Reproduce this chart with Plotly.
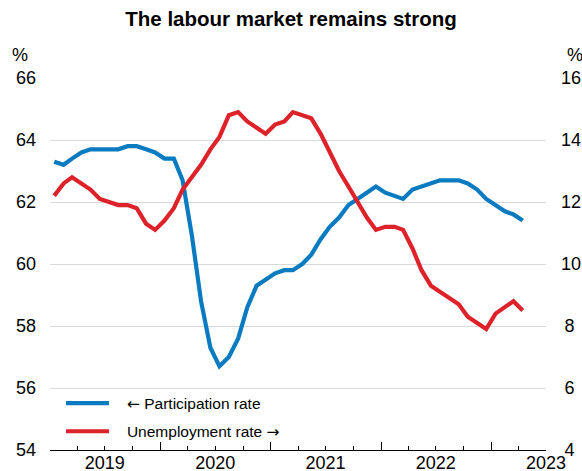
import pandas as pd
import plotly.graph_objects as go

# Monthly observations, Jan 2019 - Apr 2023 (plotted mid-month)
months = pd.date_range("2019-01-01", "2023-04-01", freq="MS") + pd.Timedelta(days=14)

participation = [
    63.3, 63.2, 63.4, 63.6, 63.7, 63.7, 63.7, 63.7, 63.8, 63.8, 63.7, 63.6,
    63.4, 63.4, 62.7, 60.9, 58.8, 57.3, 56.7, 57.0, 57.6, 58.6, 59.3, 59.5,
    59.7, 59.8, 59.8, 60.0, 60.3, 60.8, 61.2, 61.5, 61.9, 62.1, 62.3, 62.5,
    62.3, 62.2, 62.1, 62.4, 62.5, 62.6, 62.7, 62.7, 62.7, 62.6, 62.4, 62.1,
    61.9, 61.7, 61.6, 61.4,
]
unemployment = [
    12.2, 12.6, 12.8, 12.6, 12.4, 12.1, 12.0, 11.9, 11.9, 11.8, 11.3, 11.1,
    11.4, 11.8, 12.4, 12.8, 13.2, 13.7, 14.1, 14.8, 14.9, 14.6, 14.4, 14.2,
    14.5, 14.6, 14.9, 14.8, 14.7, 14.2, 13.6, 13.0, 12.5, 12.0, 11.5, 11.1,
    11.2, 11.2, 11.1, 10.5, 9.8, 9.3, 9.1, 8.9, 8.7, 8.3, 8.1, 7.9,
    8.4, 8.6, 8.8, 8.5,
]

year_labels = ["2019", "2020", "2021", "2022", "2023"]
year_label_pos = ["2019-07-01", "2020-07-01", "2021-07-01", "2022-07-01", "2023-07-01"]
year_starts = ["2019-01-01", "2020-01-01", "2021-01-01", "2022-01-01", "2023-01-01"]
quarter_ticks = [str(d.date()) for d in pd.date_range("2019-01-01", "2023-07-01", freq="QS")]
x_range = ["2019-01-01", "2023-07-01"]

left_ticks = [54, 56, 58, 60, 62, 64, 66]
right_ticks = [4, 6, 8, 10, 12, 14, 16]
right_text = [("\u2009" + str(v)) if v < 10 else str(v) for v in right_ticks]

BLUE = "#0a7bc1"
RED = "#dd2229"
FONT = "Arial, Liberation Sans, sans-serif"
ARROW = "<span style='font-family:DejaVu Sans'>{}</span>"
PAD = "\u00a0\u00a0\u00a0"

fig = go.Figure()
fig.add_trace(go.Scatter(
    x=months, y=participation,
    name=PAD + ARROW.format("\u2190") + " Participation rate",
    mode="lines", line=dict(color=BLUE, width=4.2), xaxis="x", yaxis="y",
    legendgroup="a",
))
fig.add_trace(go.Scatter(
    x=months, y=unemployment,
    name=PAD + "Unemployment rate " + ARROW.format("\u2192"),
    mode="lines", line=dict(color=RED, width=4.2), xaxis="x2", yaxis="y2",
    legendgroup="b",
))

fig.update_layout(
    width=582, height=471,
    margin=dict(l=50, r=36, t=78, b=21, autoexpand=False),
    paper_bgcolor="white", plot_bgcolor="rgba(0,0,0,0)",
    font=dict(family=FONT, color="black", size=18),
    title=dict(text="<b>The labour market remains strong</b>",
               x=0.5, xref="container", xanchor="center",
               y=1 - 19 / 471, yref="container", yanchor="middle",
               font=dict(size=20.5, family=FONT, color="black")),
    showlegend=True,
    legend=dict(x=(61 - 50) / 496, y=(450 - 417.5) / 372, xanchor="left", yanchor="middle",
                bgcolor="rgba(0,0,0,0)", borderwidth=0,
                font=dict(size=15.5, family=FONT), itemwidth=43,
                tracegroupgap=5),
    xaxis=dict(
        type="date", range=x_range, showgrid=False, automargin=False,
        showline=True, linecolor="black", linewidth=1,
        tickmode="array", tickvals=year_starts, ticks="inside", ticklen=8,
        tickcolor="black", tickwidth=1, showticklabels=False,
        minor=dict(tickmode="array", tickvals=quarter_ticks, ticks="inside",
                   ticklen=4, tickcolor="black", tickwidth=1, showgrid=False),
        zeroline=False,
    ),
    xaxis2=dict(
        type="date", range=x_range, overlaying="x", side="bottom", anchor="y",
        showgrid=False, showline=False, zeroline=False, automargin=False,
        tickmode="array", tickvals=year_label_pos, ticktext=year_labels,
        ticks="", ticklabelstandoff=0, tickfont=dict(size=18),
    ),
    yaxis=dict(
        range=[54, 66], tickmode="array", tickvals=left_ticks, automargin=False,
        showgrid=True, gridcolor="#d9d9d9", gridwidth=1,
        zeroline=False, showline=False, ticks="",
        ticklabelstandoff=13, tickfont=dict(size=18),
    ),
    yaxis2=dict(
        range=[4, 16], tickmode="array", tickvals=right_ticks, ticktext=right_text,
        overlaying="y", side="right", anchor="x", automargin=False,
        showgrid=False, zeroline=False, showline=False, ticks="",
        ticklabelstandoff=14, tickfont=dict(size=18),
    ),
    annotations=[
        dict(text="%", xref="paper", yref="paper",
             x=(20 - 50) / 496, y=(450 - 55) / 372,
             xanchor="center", yanchor="middle", showarrow=False,
             font=dict(size=18)),
        dict(text="%", xref="paper", yref="paper",
             x=(575 - 50) / 496, y=(450 - 55) / 372,
             xanchor="center", yanchor="middle", showarrow=False,
             font=dict(size=18)),
    ],
)

fig.write_html("out.html", config={"displayModeBar": False},
               post_script="document.body.style.margin='0';")
